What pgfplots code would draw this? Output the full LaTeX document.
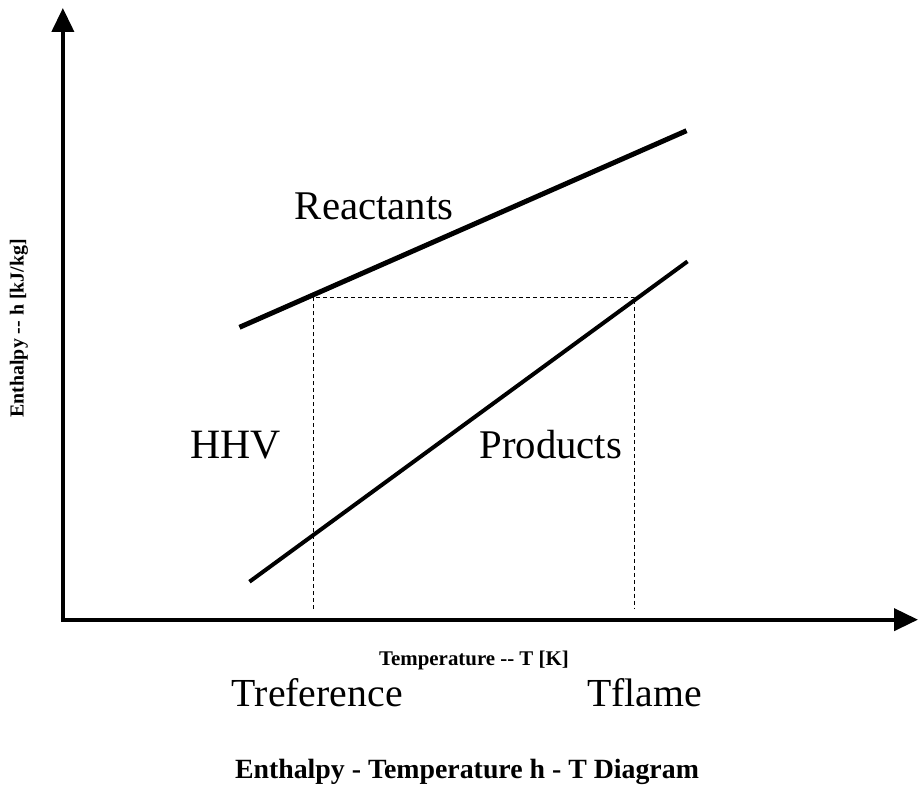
\documentclass[border=0pt]{standalone}
\usepackage{fontspec}
\setmainfont{Liberation Serif}
\usepackage{pgfplots}
\pgfplotsset{compat=1.18}
\usetikzlibrary{arrows.meta}

\begin{document}
\begin{tikzpicture}
\begin{axis}[
  scale only axis,
  width=920bp, height=793bp,
  xmin=0, xmax=920, ymin=0, ymax=793,
  y dir=reverse,
  axis line style={draw=none},
  ticks=none,
  clip=false,
]
% axes with arrows
\addplot[black, line width=4bp, -{Triangle[length=24bp,width=22bp]}] coordinates {(63,621) (63,8)};
\addplot[black, line width=4bp, -{Triangle[length=24bp,width=22bp]}] coordinates {(61,621) (920,621)};
% reactants and products
\addplot[black, line width=5bp] coordinates {(240,328) (688,131)};
\addplot[black, line width=4bp] coordinates {(250,583) (689,262)};
% dashed guide lines
\addplot[black, line width=1.2bp, dash pattern=on 4bp off 3bp] coordinates {(314,610) (314,298) (636,298) (636,610)};

\node[anchor=base] at (axis cs:375,220) {\fontsize{41}{48}\selectfont Reactants};
\node[anchor=base] at (axis cs:236,459) {\fontsize{42}{48}\selectfont HHV};
\node[anchor=base] at (axis cs:552,459) {\fontsize{41}{48}\selectfont Products};
\node[anchor=base] at (axis cs:318,708) {\fontsize{40}{48}\selectfont Treference};
\node[anchor=base] at (axis cs:646,708) {\fontsize{40}{48}\selectfont Tflame};
\node[anchor=base] at (axis cs:475,667) {\fontsize{21}{24}\selectfont\bfseries Temperature -{}- T [K]};
\node[anchor=base] at (axis cs:468,780) {\fontsize{28}{32}\selectfont\bfseries Enthalpy - Temperature h - T Diagram};
\node[rotate=90, anchor=center] at (axis cs:19,329) {\fontsize{20}{24}\selectfont\bfseries Enthalpy -{}- h [kJ/kg]};
\end{axis}
\end{tikzpicture}
\end{document}
